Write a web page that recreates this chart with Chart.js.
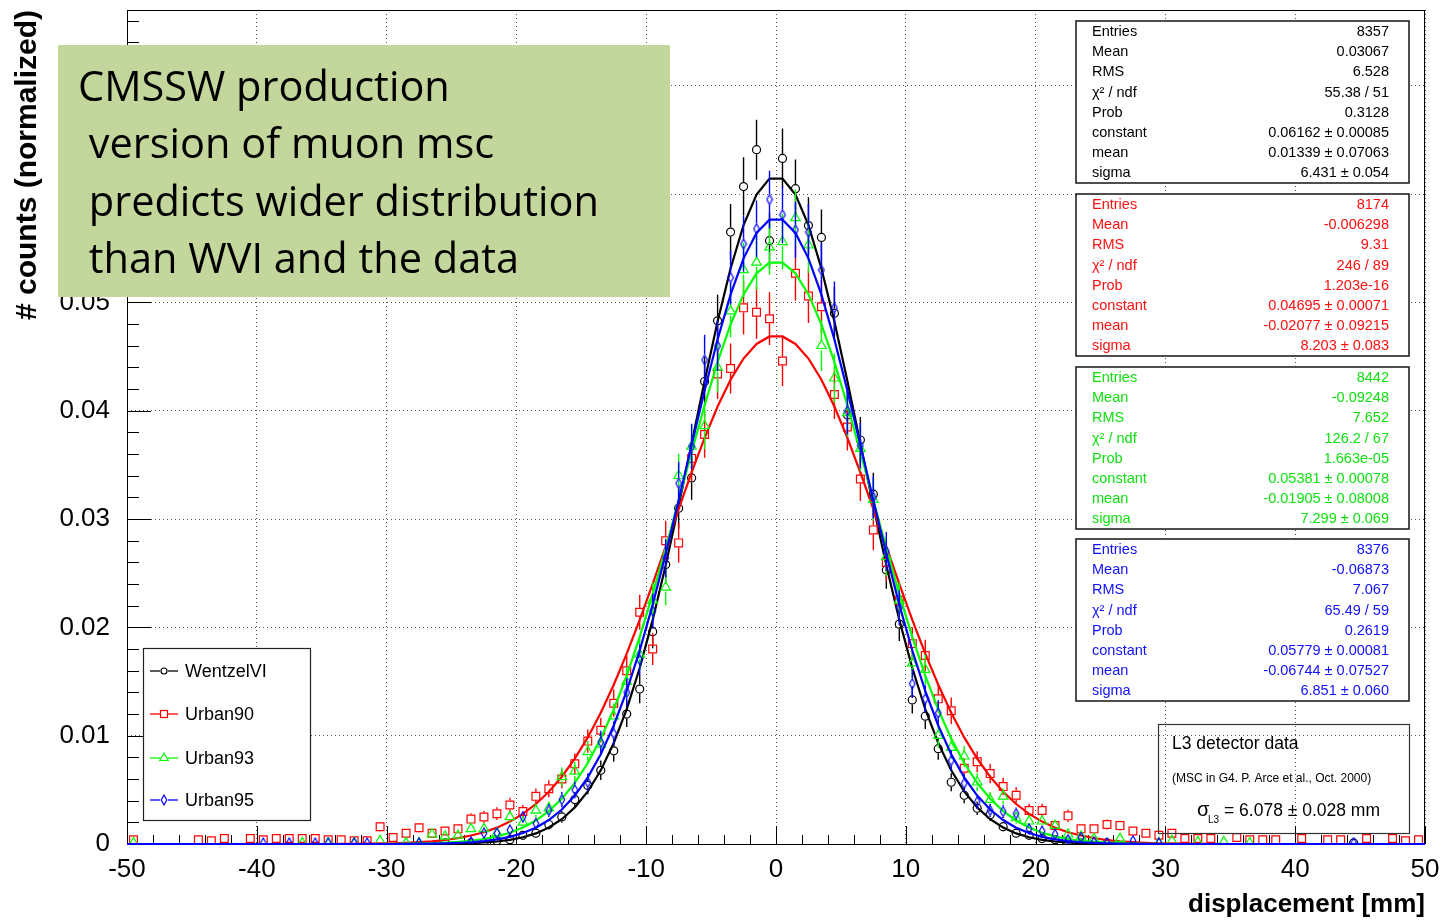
<!DOCTYPE html>
<html>
<head>
<meta charset="utf-8">
<script src="https://cdn.jsdelivr.net/npm/chart.js@4.4.1/dist/chart.umd.min.js"></script>
<style>
  html, body { margin: 0; padding: 0; background: #fff; }
  canvas { display: block; }
</style>
</head>
<body>
<canvas id="msc" width="1445" height="922"></canvas>
<script>
const _ = null;
const FONT = "'Liberation Sans', Arial, Helvetica, sans-serif";

// axes
const xTicks = [-50, -40, -30, -20, -10, 0, 10, 20, 30, 40, 50];
const xTickLabels = ['-50', '-40', '-30', '-20', '-10', '0', '10', '20', '30', '40', '50'];
const yTicks = [0, 0.01, 0.02, 0.03, 0.04, 0.05, 0.06, 0.07];
const yTickLabels = ['0', '0.01', '0.02', '0.03', '0.04', '0.05', '0.06', '0.07'];

// 100 bins of 1 mm, centres -49.5 ... 49.5
const binCenters = Array.from({ length: 100 }, (d, i) => -49.5 + i);

const seriesNames = ['WentzelVI', 'Urban90', 'Urban93', 'Urban95'];
const seriesColors = ['#000000', '#ff0000', '#00ff00', '#0000ff'];
const entries = [8357, 8174, 8442, 8376];

// histogram contents (normalized), one value per bin, _ = empty bin
const wentzelVI = [
  _,_,_,_,_,_,_,_,_,_,
  _,_,_,_,_,_,_,_,_,_,
  _,_,_,_,0.0001,_,0.0001,0.0001,0.0003,0.0004,
  0.0008,0.0010,0.0018,0.0025,0.0041,0.0054,0.0068,0.0086,0.0120,0.0143,
  0.0196,0.0258,0.0310,0.0338,0.0427,0.0483,0.0565,0.0607,0.0641,0.0557,
  0.0633,0.0605,0.0571,0.0560,0.0490,0.0396,0.0373,0.0323,0.0253,0.0203,
  0.0133,0.0118,0.0088,0.0057,0.0045,0.0033,0.0027,0.0016,0.0010,0.0008,
  0.0005,0.0004,0.0001,0.0001,_,0.0001,_,_,_,_,
  _,_,_,_,_,_,_,_,_,_,
  _,_,_,_,0.0001,_,_,_,_,_
];
const urban90 = [
  0.0004,_,_,_,_,0.0004,0.0003,0.0005,_,0.0005,
  0.0004,0.0005,0.0005,0.0005,0.0005,0.0004,0.0004,0.0003,0.0003,0.0016,
  0.0006,0.0010,0.0015,0.0010,0.0012,0.0014,0.0023,0.0025,0.0028,0.0036,
  0.0030,0.0044,0.0051,0.0060,0.0074,0.0095,0.0105,0.0130,0.0160,0.0214,
  0.0180,0.0280,0.0278,0.0356,0.0378,0.0434,0.0439,0.0495,0.0491,0.0485,
  0.0446,0.0527,0.0506,0.0496,0.0415,0.0385,0.0337,0.0290,0.0260,0.0225,
  0.0185,0.0174,0.0134,0.0123,0.0070,0.0076,0.0065,0.0053,0.0045,0.0031,
  0.0031,0.0017,0.0026,0.0014,0.0014,0.0018,0.0017,0.0012,0.0010,0.0008,
  0.0010,0.0005,0.0005,0.0005,_,0.0006,0.0004,0.0004,0.0004,_,
  0.0005,_,0.0004,0.0004,_,0.0005,_,0.0005,0.0003,0.0004
];
const urban93 = [
  0.0001,_,_,_,_,_,_,_,_,_,
  _,_,_,0.0001,_,0.0001,_,0.0001,_,0.0003,
  _,0.0001,0.0001,0.0009,0.0007,0.0008,0.0014,0.0014,0.0010,0.0025,
  0.0020,0.0031,0.0033,0.0062,0.0067,0.0085,0.0092,0.0118,0.0150,0.0175,
  0.0225,0.0237,0.0340,0.0367,0.0386,0.0440,0.0492,0.0530,0.0537,0.0551,
  0.0556,0.0578,0.0553,0.0460,0.0430,0.0398,0.0365,0.0318,0.0265,0.0225,
  0.0167,0.0161,0.0100,0.0089,0.0081,0.0057,0.0041,0.0044,0.0024,0.0021,
  0.0021,0.0017,0.0009,0.0007,0.0005,_,0.0005,_,_,0.0001,
  0.0003,_,0.0002,_,0.0002,_,0.0001,_,_,_,
  _,_,_,_,_,_,_,_,_,_
];
const urban95 = [
  _,_,_,_,_,_,_,_,_,_,
  0.0001,_,0.0001,_,0.0001,0.0001,_,0.0001,0.0001,_,
  _,_,0.0001,_,_,_,0.0002,0.0010,0.0010,0.0013,
  0.0025,0.0019,0.0031,0.0041,0.0050,0.0057,0.0094,0.0102,0.0140,0.0170,
  0.0215,0.0264,0.0333,0.0367,0.0447,0.0460,0.0523,0.0554,0.0568,0.0595,
  0.0581,0.0567,0.0565,0.0530,0.0495,0.0400,0.0368,0.0320,0.0270,0.0218,
  0.0148,0.0134,0.0121,0.0077,0.0056,0.0039,0.0031,0.0030,0.0028,0.0014,
  0.0012,0.0009,0.0004,0.0006,0.0002,0.0001,_,0.0003,_,0.0001,
  _,_,_,_,_,_,_,_,_,_,
  _,_,_,_,0.0001,_,_,_,_,_
];

// gaussian fit curves, read at the bin centres
const fitWentzelVI = [
  0,0,0,0,0,0,0,0,0,0,
  0,0,0,0,0,0,0,0,0,0,
  0,0,0,0.00001,0.00002,0.00004,0.00008,0.00014,0.00023,0.00038,
  0.00062,0.00098,0.00152,0.00229,0.00338,0.00485,0.0068,0.00932,0.01246,0.01625,
  0.02069,0.02573,0.03121,0.03697,0.04275,0.04824,0.05314,0.05714,0.05997,0.06143,
  0.06143,0.05997,0.05714,0.05314,0.04824,0.04275,0.03697,0.03121,0.02573,0.02069,
  0.01625,0.01246,0.00932,0.0068,0.00485,0.00338,0.00229,0.00152,0.00098,0.00062,
  0.00038,0.00023,0.00014,0.00008,0.00004,0.00002,0.00001,0,0,0,
  0,0,0,0,0,0,0,0,0,0,
  0,0,0,0,0,0,0,0,0,0
];
const fitUrban90 = [
  0,0,0,0,0,0,0,0,0,0,
  0,0,0,0,0,0,0.00001,0.00002,0.00003,0.00005,
  0.00007,0.00011,0.00017,0.00025,0.00037,0.00054,0.00078,0.00109,0.00151,0.00207,
  0.00278,0.00369,0.00482,0.00621,0.00788,0.00984,0.01212,0.0147,0.01757,0.02069,
  0.02401,0.02745,0.03091,0.0343,0.0375,0.04039,0.04287,0.04482,0.04617,0.04686,
  0.04686,0.04617,0.04482,0.04287,0.04039,0.0375,0.0343,0.03091,0.02745,0.02401,
  0.02069,0.01757,0.0147,0.01212,0.00984,0.00788,0.00621,0.00482,0.00369,0.00278,
  0.00207,0.00151,0.00109,0.00078,0.00054,0.00037,0.00025,0.00017,0.00011,0.00007,
  0.00005,0.00003,0.00002,0.00001,0,0,0,0,0,0,
  0,0,0,0,0,0,0,0,0,0
];
const fitUrban93 = [
  0,0,0,0,0,0,0,0,0,0,
  0,0,0,0,0,0,0,0,0,0,
  0.00001,0.00002,0.00004,0.00007,0.00012,0.00019,0.0003,0.00046,0.0007,0.00104,
  0.00152,0.00217,0.00304,0.00418,0.00564,0.00748,0.00973,0.01242,0.01555,0.01912,
  0.02307,0.02731,0.03174,0.0362,0.04051,0.0445,0.04797,0.05074,0.05269,0.05368,
  0.05368,0.05269,0.05074,0.04797,0.0445,0.04051,0.0362,0.03174,0.02731,0.02307,
  0.01912,0.01555,0.01242,0.00973,0.00748,0.00564,0.00418,0.00304,0.00217,0.00152,
  0.00104,0.0007,0.00046,0.0003,0.00019,0.00012,0.00007,0.00004,0.00002,0.00001,
  0,0,0,0,0,0,0,0,0,0,
  0,0,0,0,0,0,0,0,0,0
];
const fitUrban95 = [
  0,0,0,0,0,0,0,0,0,0,
  0,0,0,0,0,0,0,0,0,0,
  0,0.00001,0.00002,0.00003,0.00006,0.0001,0.00016,0.00026,0.00042,0.00066,
  0.00101,0.00151,0.00221,0.00318,0.00447,0.00615,0.00829,0.01094,0.01413,0.01786,
  0.0221,0.02677,0.03174,0.03684,0.04187,0.04658,0.05072,0.05407,0.05642,0.05764,
  0.05764,0.05642,0.05407,0.05072,0.04658,0.04187,0.03684,0.03174,0.02677,0.0221,
  0.01786,0.01413,0.01094,0.00829,0.00615,0.00447,0.00318,0.00221,0.00151,0.00101,
  0.00066,0.00042,0.00026,0.00016,0.0001,0.00006,0.00003,0.00002,0.00001,0,
  0,0,0,0,0,0,0,0,0,0,
  0,0,0,0,0,0,0,0,0,0
];

// stat boxes
const statLabels = ['Entries', 'Mean', 'RMS', 'χ² / ndf', 'Prob', 'constant', 'mean', 'sigma'];
const statsWentzelVI = ['8357', '0.03067', '6.528', '55.38 / 51', '0.3128', '0.06162 ± 0.00085', '0.01339 ± 0.07063', '6.431 ± 0.054'];
const statsUrban90 = ['8174', '-0.006298', '9.31', '246 / 89', '1.203e-16', '0.04695 ± 0.00071', '-0.02077 ± 0.09215', '8.203 ± 0.083'];
const statsUrban93 = ['8442', '-0.09248', '7.652', '126.2 / 67', '1.663e-05', '0.05381 ± 0.00078', '-0.01905 ± 0.08008', '7.299 ± 0.069'];
const statsUrban95 = ['8376', '-0.06873', '7.067', '65.49 / 59', '0.2619', '0.05779 ± 0.00081', '-0.06744 ± 0.07527', '6.851 ± 0.060'];
const statTextColors = ['#000000', '#ff1010', '#10e010', '#1010ff'];

const noteLines = ['CMSSW production', ' version of muon msc', ' predicts wider distribution', ' than WVI and the data'];

// blue open diamond marker
const diamond = document.createElement('canvas');
diamond.width = 8; diamond.height = 12;
const dctx = diamond.getContext('2d');
dctx.strokeStyle = '#0000ff';
dctx.lineWidth = 1.2;
dctx.beginPath();
dctx.moveTo(4, 1); dctx.lineTo(6.8, 6); dctx.lineTo(4, 11); dctx.lineTo(1.2, 6); dctx.closePath();
dctx.stroke();

function points(values) {
  const out = [];
  values.forEach((v, i) => { if (v !== null) out.push({ x: binCenters[i], y: v }); });
  return out;
}
function curve(values) {
  return [{ x: xTicks[0], y: 0 }].concat(values.map((v, i) => ({ x: binCenters[i], y: v })), [{ x: xTicks[xTicks.length - 1], y: 0 }]);
}

const histos = [wentzelVI, urban90, urban93, urban95];
const fits = [fitWentzelVI, fitUrban90, fitUrban93, fitUrban95];
const markers = [
  { style: 'circle', r: 4, gap: 4.5 },
  { style: 'rect', r: 5.5, gap: 4.5 },
  { style: 'triangle', r: 5.5, gap: 4.5 },
  { style: diamond, r: 5, gap: 5.5 }
];

const datasets = [];
histos.forEach((h, k) => {
  datasets.push({
    label: seriesNames[k],
    data: points(h),
    entries: entries[k],
    gap: markers[k].gap,
    showLine: false,
    pointStyle: markers[k].style,
    pointRadius: markers[k].r,
    pointHoverRadius: markers[k].r,
    pointBorderColor: seriesColors[k],
    pointBackgroundColor: 'rgba(0,0,0,0)',
    pointBorderWidth: 1.2,
    borderColor: seriesColors[k],
    clip: { left: 6, right: 6, top: 6, bottom: 0 },
    order: 7 - 2 * k
  });
  datasets.push({
    label: seriesNames[k] + ' fit',
    data: curve(fits[k]),
    showLine: true,
    tension: 0,
    pointRadius: 0,
    pointHoverRadius: 0,
    borderColor: seriesColors[k],
    borderWidth: 2.2,
    fill: false,
    clip: 2,
    order: 6 - 2 * k
  });
});

const errorBars = {
  id: 'errorBars',
  afterDatasetDraw(chart, args) {
    const ds = chart.data.datasets[args.index];
    if (!ds.entries) return;
    const { ctx, chartArea: a } = chart;
    const ys = chart.scales.y;
    ctx.save();
    ctx.beginPath();
    ctx.rect(a.left, a.top, a.right - a.left, a.bottom - a.top);
    ctx.clip();
    ctx.strokeStyle = ds.borderColor;
    ctx.lineWidth = 1.4;
    ctx.beginPath();
    args.meta.data.forEach((pt, i) => {
      const v = ds.data[i].y;
      const e = Math.sqrt(v / ds.entries);
      const top = ys.getPixelForValue(v + e);
      const bot = ys.getPixelForValue(Math.max(v - e, 0));
      if (pt.y - ds.gap > top) { ctx.moveTo(pt.x, top); ctx.lineTo(pt.x, pt.y - ds.gap); }
      if (pt.y + ds.gap < bot) { ctx.moveTo(pt.x, pt.y + ds.gap); ctx.lineTo(pt.x, bot); }
    });
    ctx.stroke();
    ctx.restore();
  }
};

const rootFrame = {
  id: 'rootFrame',
  beforeDatasetsDraw(chart) {
    const { ctx, chartArea: a, scales: { x, y } } = chart;
    ctx.save();
    ctx.strokeStyle = '#000';
    ctx.lineWidth = 1;
    ctx.strokeRect(a.left + 0.5, a.top + 0.5, a.right - a.left - 1, a.bottom - a.top);
    ctx.beginPath();
    for (let k = 0; k <= 50; k++) {
      const px = Math.round(x.getPixelForValue(-50 + 2 * k)) + 0.5;
      const len = k % 5 === 0 ? 18 : 9;
      ctx.moveTo(px, a.bottom); ctx.lineTo(px, a.bottom - len);
    }
    for (let k = 0; k <= 38; k++) {
      const py = Math.round(y.getPixelForValue(k * 0.002)) + 0.5;
      const len = k % 5 === 0 ? 24 : 12;
      ctx.moveTo(a.left, py); ctx.lineTo(a.left + len, py);
    }
    ctx.stroke();
    ctx.restore();
  }
};

function drawStatBox(ctx, top, color, values) {
  const left = 1076, right = 1409, h = 162;
  ctx.fillStyle = '#fff';
  ctx.fillRect(left, top, right - left, h);
  ctx.strokeStyle = '#222';
  ctx.lineWidth = 1.6;
  ctx.strokeRect(left, top, right - left, h);
  ctx.fillStyle = color;
  ctx.font = '14.5px ' + FONT;
  ctx.textBaseline = 'middle';
  statLabels.forEach((lab, i) => {
    const cy = top + 11 + i * 20.2;
    ctx.textAlign = 'left';
    ctx.fillText(lab, left + 16, cy);
    ctx.textAlign = 'right';
    ctx.fillText(values[i], 1389, cy);
  });
}

function drawMarker(ctx, k, x, y) {
  ctx.strokeStyle = seriesColors[k];
  ctx.lineWidth = 1.2;
  ctx.beginPath();
  if (k === 0) { ctx.arc(x, y, 3, 0, Math.PI * 2); ctx.stroke(); }
  if (k === 1) { ctx.strokeRect(x - 3.5, y - 3.5, 7, 7); }
  if (k === 2) { ctx.moveTo(x, y - 5); ctx.lineTo(x + 4.3, y + 2.5); ctx.lineTo(x - 4.3, y + 2.5); ctx.closePath(); ctx.stroke(); }
  if (k === 3) { ctx.drawImage(diamond, x - 4, y - 6); }
}

const overlays = {
  id: 'overlays',
  afterDraw(chart) {
    const ctx = chart.ctx;
    ctx.save();

    // legend
    ctx.fillStyle = '#fff';
    ctx.fillRect(143, 648, 167, 172);
    ctx.strokeStyle = '#222';
    ctx.lineWidth = 1.2;
    ctx.strokeRect(143.5, 648.5, 167, 172);
    const ly = [671, 714, 758, 800];
    seriesNames.forEach((name, k) => {
      ctx.strokeStyle = seriesColors[k];
      ctx.lineWidth = 1.3;
      ctx.beginPath();
      ctx.moveTo(150, ly[k]); ctx.lineTo(178, ly[k]);
      ctx.stroke();
      ctx.fillStyle = '#fff';
      ctx.fillRect(160, ly[k] - 5, 8, 10);
      drawMarker(ctx, k, 164, ly[k]);
      ctx.fillStyle = '#000';
      ctx.font = '18px ' + FONT;
      ctx.textAlign = 'left';
      ctx.textBaseline = 'middle';
      ctx.fillText(name, 185, ly[k] + 1);
    });

    // stat boxes
    drawStatBox(ctx, 21, statTextColors[0], statsWentzelVI);
    drawStatBox(ctx, 194, statTextColors[1], statsUrban90);
    drawStatBox(ctx, 367, statTextColors[2], statsUrban93);
    drawStatBox(ctx, 539, statTextColors[3], statsUrban95);

    // L3 reference
    ctx.strokeStyle = '#333';
    ctx.lineWidth = 1.2;
    ctx.strokeRect(1158.5, 724.5, 251, 109);
    ctx.fillStyle = '#000';
    ctx.textAlign = 'left';
    ctx.textBaseline = 'middle';
    ctx.font = '17.5px ' + FONT;
    ctx.fillText('L3 detector data', 1172, 744);
    ctx.font = '12px ' + FONT;
    ctx.fillText('(MSC in G4. P. Arce et al., Oct. 2000)', 1172, 779);
    ctx.font = '20px ' + FONT;
    ctx.fillText('σ', 1197, 810);
    ctx.font = '10px ' + FONT;
    ctx.fillText('L3', 1208, 820);
    ctx.font = '17.5px ' + FONT;
    ctx.fillText('= 6.078 ± 0.028 mm', 1224, 811);

    // slide note
    ctx.fillStyle = '#c3d69b';
    ctx.fillRect(58, 45, 612, 252);
    ctx.fillStyle = '#000';
    ctx.font = "41.5px 'Open Sans', 'Noto Sans', sans-serif";
    ctx.textBaseline = 'alphabetic';
    const nb = [101, 158, 216, 273];
    noteLines.forEach((t, i) => ctx.fillText(t, 78, nb[i]));

    ctx.restore();
  }
};

new Chart(document.getElementById('msc'), {
  type: 'scatter',
  data: { datasets },
  options: {
    responsive: false,
    animation: false,
    devicePixelRatio: 1,
    events: [],
    layout: { padding: { top: 10, right: 20, left: 0, bottom: 0 } },
    plugins: { legend: { display: false }, tooltip: { enabled: false } },
    scales: {
      x: {
        type: 'linear',
        min: -50,
        max: 50,
        afterBuildTicks: s => { s.ticks = xTicks.map(v => ({ value: v })); },
        afterFit: s => { s.height = 78; s.paddingLeft = 0; s.paddingRight = 0; },
        ticks: { color: '#000', font: { family: FONT, size: 26 }, padding: 10, maxRotation: 0, autoSkip: false,
                 callback: (v, i) => xTickLabels[i] },
        grid: { color: '#555', lineWidth: 1, drawTicks: false },
        border: { display: false, dash: [1, 3] },
        title: { display: true, text: 'displacement [mm]', align: 'end', color: '#000',
                 font: { family: FONT, size: 26, weight: 'bold' }, padding: { top: 0, bottom: 2 } }
      },
      y: {
        type: 'linear',
        min: 0,
        max: 0.077,
        afterBuildTicks: s => { s.ticks = yTicks.map(v => ({ value: v })); },
        afterFit: s => { s.width = 127; s.paddingTop = 0; s.paddingBottom = 0; },
        ticks: { color: '#000', font: { family: FONT, size: 26 }, padding: 17, autoSkip: false,
                 callback: (v, i) => yTickLabels[i] },
        grid: { color: '#555', lineWidth: 1, drawTicks: false },
        border: { display: false, dash: [1, 3] },
        title: { display: true, text: '# counts (normalized)', align: 'end', color: '#000',
                 font: { family: FONT, size: 30, weight: 'bold' }, padding: { top: 10, bottom: 0 } }
      }
    }
  },
  plugins: [rootFrame, errorBars, overlays]
});
</script>
</body>
</html>
